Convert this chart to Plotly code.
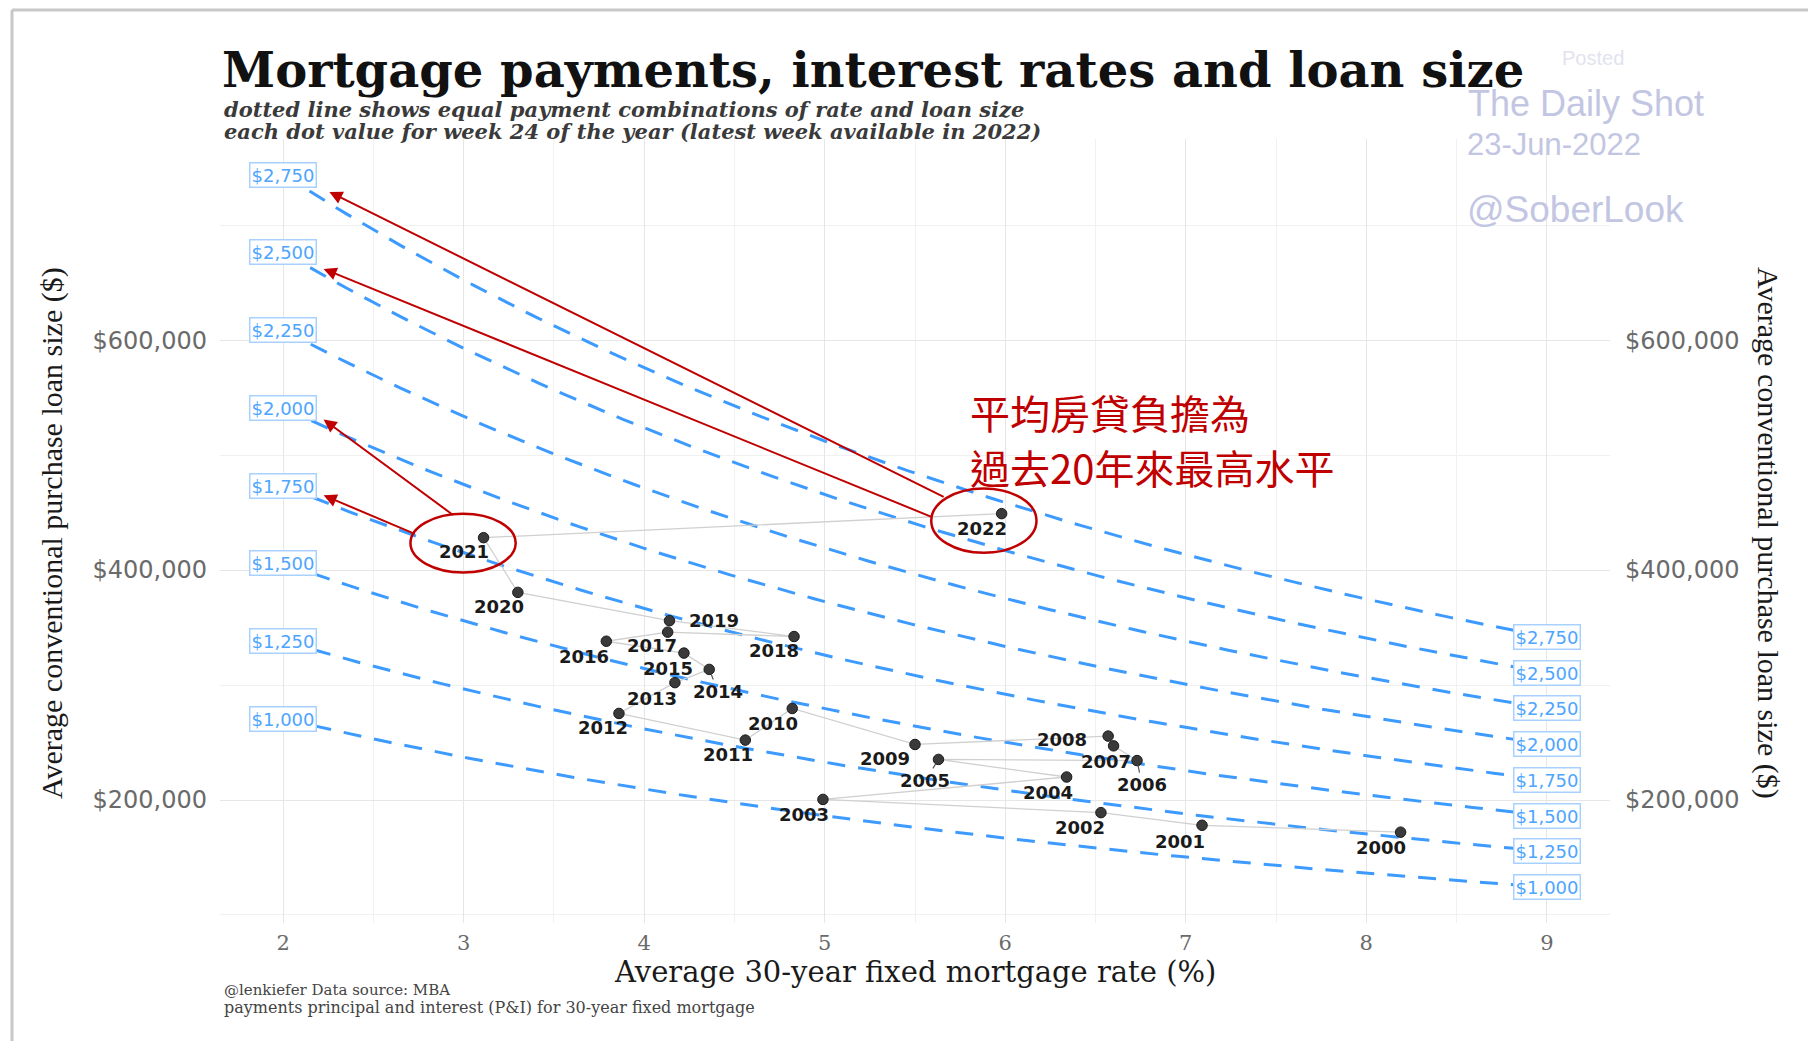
import numpy as np
import plotly.graph_objects as go

# ---- datos (semana 24 de cada año) ----
years = list(range(2000, 2023))
rates = [8.19, 7.09, 6.53, 4.99, 6.34, 5.63, 6.73, 6.60, 6.57, 5.50, 4.82, 4.56,
         3.86, 4.17, 4.36, 4.22, 3.79, 4.13, 4.83, 4.14, 3.30, 3.11, 5.98]
loans = [172000, 178000, 189000, 200500, 220000, 235300, 234300, 247100, 255600,
         248300, 279600, 252100, 275300, 302100, 313600, 327800, 338100, 346000,
         342200, 356000, 380600, 428200, 449100]

# pagos mensuales (P&I) de las lineas punteadas
payments = [1000, 1250, 1500, 1750, 2000, 2250, 2500, 2750]
rate_min, rate_max = 2, 9

# posicion de etiquetas de año (desplazamiento en px, estilo ggrepel)
lab_dx = [-20, -22, -21, -19, -19, -13, 5, -8, -46, -30, -19, -17,
          -16, -23, 9, -16, -22, -16, -20, 45, -19, -20, -20]
lab_dy = [15, 16, 15, 15, 15, 21, 24, 16, 3, 14, 15, 14,
          14, 16, 22, 15, 15, 13, 14, 0, 14, 14, 15]
leader = [2005, 2006, 2014]

notes_red = ["平均房貸負擔為", "過去20年來最高水平"]

# la pagina html deja 8px de margen: se trabaja en px de pagina
OFF = 8
W, H = 1816 - 2 * OFF, 1049 - 2 * OFF
ML, MT = 220 - OFF, 139 - OFF
MR, MB = W - (1610 - OFF), H - (923 - OFF)
PW, PH = W - ML - MR, H - MT - MB


def xp(px):
    return (px - OFF - ML) / PW


def yp(py):
    return (H - MB - (py - OFF)) / PH


def loan_for(pay, r):
    i = np.asarray(r) / 1200.0
    return pay * (1 - (1 + i) ** -360) / i


fig = go.Figure()

blue = '#3d9bff'
rg = np.linspace(rate_min, rate_max, 120)
for p in payments:
    fig.add_trace(go.Scatter(x=rg, y=loan_for(p, rg), mode='lines',
                             line=dict(color=blue, width=3, dash='18px,13px'),
                             hoverinfo='skip', showlegend=False))

# trayectoria y puntos
fig.add_trace(go.Scatter(x=rates, y=loans, mode='lines',
                         line=dict(color='#d0d0d0', width=1.3),
                         hoverinfo='skip', showlegend=False))
fig.add_trace(go.Scatter(x=rates, y=loans, mode='markers',
                         marker=dict(size=10.5, color='#3a3a3a',
                                     line=dict(color='#1a1a1a', width=1)),
                         text=[str(y) for y in years], showlegend=False))
# eje derecho
fig.add_trace(go.Scatter(x=rates[:1], y=loans[:1], yaxis='y2', mode='markers',
                         marker=dict(opacity=0), hoverinfo='skip', showlegend=False))

ann = []
for yr, r, l, dx, dy in zip(years, rates, loans, lab_dx, lab_dy):
    ann.append(dict(x=r, y=l, xref='x', yref='y', text='<b>%d</b>' % yr,
                    showarrow=True, ax=dx, ay=dy, arrowhead=0, arrowwidth=1.2,
                    standoff=5,
                    arrowcolor='#555' if yr in leader else 'rgba(0,0,0,0)',
                    font=dict(family='DejaVu Sans', size=18, color='#1a1a1a')))

for p in payments:
    lab = '${:,}'.format(p)
    for r in (rate_min, rate_max):
        ann.append(dict(x=r, y=float(loan_for(p, r)), xref='x', yref='y', text=lab,
                        showarrow=False, bgcolor='white', bordercolor='#a9d1ff',
                        borderwidth=1.5, borderpad=1,
                        font=dict(family='DejaVu Sans', size=18, color='#4ea5ff')))

# flechas rojas
red = '#c00000'
arrows = [((5.667, 463000), (2.256, 729000)),
          ((5.596, 446000), (2.224, 662000)),
          ((2.949, 447000), (2.224, 531000)),
          ((2.737, 431000), (2.224, 465000))]
for (tx, ty), (hx, hy) in arrows:
    ann.append(dict(x=hx, y=hy, ax=tx, ay=ty, xref='x', yref='y', axref='x', ayref='y',
                    text='', showarrow=True, arrowhead=2, arrowsize=1.3,
                    arrowwidth=2, arrowcolor=red))

ann.append(dict(x=xp(968), y=yp(412), xref='paper', yref='paper', text=notes_red[0],
                showarrow=False, xanchor='left', yanchor='middle',
                font=dict(family='Noto Sans CJK TC', size=40, color=red)))
ann.append(dict(x=xp(968), y=yp(467), xref='paper', yref='paper', text=notes_red[1],
                showarrow=False, xanchor='left', yanchor='middle',
                font=dict(family='Noto Sans CJK TC', size=40, color=red)))

# titulos y textos
ann.append(dict(x=xp(220), y=yp(70), xref='paper', yref='paper',
                text='<b>Mortgage payments, interest rates and loan size</b>',
                showarrow=False, xanchor='left', yanchor='middle',
                font=dict(family='DejaVu Serif', size=48, color='#111')))
ann.append(dict(x=xp(222), y=yp(110), xref='paper', yref='paper',
                text='<b><i>dotted line shows equal payment combinations of rate and loan size</i></b>',
                showarrow=False, xanchor='left', yanchor='middle',
                font=dict(family='DejaVu Serif', size=21, color='#3a3a3a')))
ann.append(dict(x=xp(222), y=yp(131), xref='paper', yref='paper',
                text='<b><i>each dot value for week 24 of the year (latest week available in 2022)</i></b>',
                showarrow=False, xanchor='left', yanchor='middle',
                font=dict(family='DejaVu Serif', size=21, color='#3a3a3a')))
ann.append(dict(x=xp(915), y=yp(972), xref='paper', yref='paper',
                text='Average 30-year fixed mortgage rate (%)',
                showarrow=False, xanchor='center', yanchor='middle',
                font=dict(family='DejaVu Serif', size=29, color='#1a1a1a')))
ann.append(dict(x=xp(52), y=yp(533), xref='paper', yref='paper',
                text='Average conventional purchase loan size ($)', textangle=-90,
                showarrow=False, xanchor='center', yanchor='middle',
                font=dict(family='Liberation Serif', size=30, color='#1a1a1a')))
ann.append(dict(x=xp(1768), y=yp(533), xref='paper', yref='paper',
                text='Average conventional purchase loan size ($)', textangle=90,
                showarrow=False, xanchor='center', yanchor='middle',
                font=dict(family='Liberation Serif', size=30, color='#1a1a1a')))
ann.append(dict(x=xp(222), y=yp(990), xref='paper', yref='paper',
                text='@lenkiefer Data source: MBA',
                showarrow=False, xanchor='left', yanchor='middle',
                font=dict(family='DejaVu Serif', size=15, color='#444')))
ann.append(dict(x=xp(222), y=yp(1007), xref='paper', yref='paper',
                text='payments principal and interest (P&I) for 30-year fixed mortgage',
                showarrow=False, xanchor='left', yanchor='middle',
                font=dict(family='DejaVu Serif', size=16, color='#444')))

# marca de agua
wm = '#c3c6e2'
ann.append(dict(x=xp(1560), y=yp(58), xref='paper', yref='paper', text='Posted',
                showarrow=False, xanchor='left', yanchor='middle',
                font=dict(family='Liberation Sans', size=20, color='#e2e3ef')))
ann.append(dict(x=xp(1466), y=yp(103), xref='paper', yref='paper', text='The Daily Shot',
                showarrow=False, xanchor='left', yanchor='middle',
                font=dict(family='Liberation Sans', size=36, color=wm)))
ann.append(dict(x=xp(1465), y=yp(144), xref='paper', yref='paper', text='23-Jun-2022',
                showarrow=False, xanchor='left', yanchor='middle',
                font=dict(family='Liberation Sans', size=31, color=wm)))
ann.append(dict(x=xp(1465), y=yp(209), xref='paper', yref='paper', text='@SoberLook',
                showarrow=False, xanchor='left', yanchor='middle',
                font=dict(family='Liberation Sans', size=37, color=wm)))

shapes = [
    dict(type='circle', xref='x', yref='y', x0=2.705, x1=3.288, y0=398000, y1=449000,
         line=dict(color=red, width=2.5)),
    dict(type='circle', xref='x', yref='y', x0=5.59, x1=6.173, y0=415000, y1=471000,
         line=dict(color=red, width=2.5)),
    dict(type='line', xref='paper', yref='paper', x0=xp(12), x1=xp(12), y0=yp(10), y1=yp(1049),
         line=dict(color='#c8c8c8', width=3)),
    dict(type='line', xref='paper', yref='paper', x0=xp(12), x1=xp(1816), y0=yp(10), y1=yp(10),
         line=dict(color='#c8c8c8', width=3)),
]

tickfont_y = dict(family='DejaVu Sans', size=24, color='#6a6a6a')
fig.update_layout(
    width=W, height=H,
    margin=dict(l=ML, r=MR, t=MT, b=MB),
    paper_bgcolor='white', plot_bgcolor='white',
    annotations=ann, shapes=shapes,
    xaxis=dict(range=[1.65, 9.35], tickmode='linear', tick0=2, dtick=1,
               showgrid=True, gridcolor='#e6e6e6', gridwidth=1.3, zeroline=False,
               showline=False, ticks='', ticklabelstandoff=5,
               tickfont=dict(family='DejaVu Serif', size=21, color='#6a6a6a'),
               minor=dict(dtick=0.5, showgrid=True, gridcolor='#f1f1f1', gridwidth=1)),
    yaxis=dict(range=[93000, 775000], tickmode='linear', tick0=0, dtick=200000,
               tickformat='$,.0f', showgrid=True, gridcolor='#e6e6e6', gridwidth=1.3,
               zeroline=False, showline=False, ticks='', ticklabelstandoff=12,
               tickfont=tickfont_y,
               minor=dict(dtick=100000, showgrid=True, gridcolor='#f1f1f1', gridwidth=1)),
    yaxis2=dict(range=[93000, 775000], overlaying='y', side='right', tickmode='linear',
                tick0=0, dtick=200000, tickformat='$,.0f', showgrid=False,
                zeroline=False, showline=False, ticks='', ticklabelstandoff=14,
                tickfont=tickfont_y),
    hovermode='closest',
)

fig.write_html("out.html")
